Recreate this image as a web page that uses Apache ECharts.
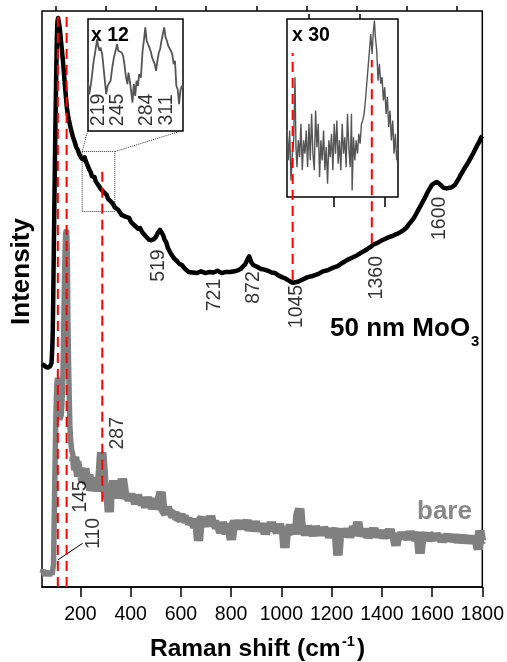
<!DOCTYPE html>
<html>
<head>
<meta charset="utf-8">
<script src="https://cdn.jsdelivr.net/npm/echarts@6/dist/echarts.min.js"></script>
<style>
html,body{margin:0;padding:0;background:#fff;}
#chart{width:507px;height:662px;}
</style>
</head>
<body>
<div id="chart"></div>
<script>
// ---------- DATA ----------
const majorTicks = [200,400,600,800,1000,1200,1400,1600,1800];
const minorTicks = [100,300,500,700,900,1100,1300,1500,1700];

// 50 nm MoO3 spectrum (black)
const moShift = [47,55,63,71,79,85,88,90,92,94,96,98,100,102,104,106,108.5,111,113,116,119,122,126,130,134,138,142,146,150,154,160,165,171,177,183,189,195,201,205,209,213,217,221,225,230,236,241,246,251,256,261,266,271,276,281,288,292,298,304,310,315,322,330,337,343,350,357,364,371,379,386,394,401,408,415,422,430,438,446,453,460,466,473,481,487,493,501,507,512,517,522,529,535,541,548,556,564,574,584,594,604,617,631,647,663,680,698,714,730,746,762,780,797,813,829,840,848,856,864,868,872,876,880,888,903,919,933,947,961,975,988,1002,1014,1026,1036,1046,1056,1066,1085,1105,1125,1145,1165,1184,1204,1224,1244,1263,1283,1302,1320,1340,1354,1368,1381,1401,1421,1440,1460,1474,1488,1498,1508,1518,1528,1537,1547,1557,1567,1575,1583,1591,1599,1608,1618,1626,1634,1640,1646,1658,1670,1678,1685,1691,1697,1705,1713,1719,1725,1735,1745,1755,1764,1772,1780,1788,1796,1800];
const moIntensity = [38.7,38.5,38.2,38.1,38.3,38.9,41.5,44.6,51,58.5,65.5,72.4,79,84.5,90,95.0,98.2,98.8,98.6,97.6,96.5,95.0,93.3,91.5,89.4,87.2,85.2,83.2,82.0,81.1,79.9,79.0,78.0,77.3,76.4,75.9,75.2,75.0,74.4,74.7,74.2,74.6,74.0,73.8,73.0,72.4,72.0,71.3,71.6,71.2,70.4,70.6,69.8,69.8,69.1,69.3,68.6,68.4,68.1,67.4,67.2,66.9,66.5,65.9,65.9,65.5,65.3,64.6,64.8,64.3,64.0,64.1,63.4,63.5,62.8,62.8,62.2,62.3,61.6,61.4,60.9,60.8,60.3,60.2,60.0,60.4,60.8,61.4,61.6,62.0,61.8,61.1,60.3,59.9,58.9,58.2,57.6,57.0,56.6,56.1,55.9,55.2,54.7,54.6,54.5,54.8,54.5,54.7,54.6,54.9,54.5,54.7,54.7,54.8,55.0,55.3,55.7,56.0,56.8,57.1,57.4,56.9,56.4,55.9,55.6,55.2,55.1,54.9,54.6,54.5,54.1,53.8,53.6,53.3,53.0,52.8,52.9,53.0,53.4,53.8,54.0,54.3,54.8,55.0,55.4,55.7,56.3,56.8,57.2,57.6,58.1,58.6,59.0,59.5,59.7,60.2,60.6,60.9,61.3,61.6,62.0,62.4,63.0,63.5,64.1,64.8,65.6,66.4,67.2,67.9,68.6,69.2,69.8,70.1,70.3,70.1,69.8,69.5,69.3,69.2,69.3,69.4,69.6,69.8,70.1,70.8,71.5,71.9,72.4,73.1,73.8,74.6,75.3,76.0,76.7,77.3,78.1,78.3];

// bare substrate spectrum (gray)
const bareShift = [47,52,57,62,67,72,77,82,87,90,93,95,98,100,102,104,106,109,111,114,118,121,124,127,130,132,134,136,138,140,142,145,147,148,150,152,154,156,158,161,165,169,173,177,181,185,189,193,197,201,205,209,213,217,221,225,229,233,236,242,248,254,260,266,272,276,280,283,285,288,290,293,296,302,308,312,315,318,322,327,333,339,345,350,355,362,367,375,381,387,394,400,406,414,420,427,434,440,447,454,460,467,473,480,487,493,500,506,513,521,527,533,540,546,552,560,568,576,584,592,600,607,612,620,628,635,645,655,664,670,676,684,692,700,710,718,726,734,742,750,758,765,772,780,790,801,808,815,824,832,840,848,856,865,872,880,888,896,904,912,920,928,936,944,952,960,968,976,984,992,1000,1008,1014,1020,1028,1036,1044,1052,1060,1066,1073,1080,1088,1096,1104,1112,1120,1128,1136,1144,1152,1160,1168,1176,1184,1192,1200,1210,1218,1225,1232,1240,1248,1256,1264,1272,1280,1288,1296,1304,1312,1320,1328,1336,1344,1352,1360,1368,1376,1384,1392,1400,1408,1416,1424,1432,1440,1448,1456,1464,1472,1480,1488,1496,1504,1512,1520,1528,1536,1544,1552,1560,1568,1576,1584,1592,1600,1608,1616,1624,1632,1640,1648,1656,1664,1672,1680,1688,1696,1704,1712,1720,1728,1736,1744,1752,1760,1768,1776,1784,1790,1796,1800];
const bareIntensity = [2.4,3.0,1.9,2.9,2.0,2.8,1.9,2.6,2.1,2.3,4.0,10,18.6,24,29.0,32.5,35.1,36.3,35.5,33.3,29.0,28.8,29.9,32.5,35.9,41,46.4,51.5,56.8,59.8,61.6,62.0,59.5,56.8,46.4,40.5,35.9,31.5,28.1,25.5,23.8,23.2,21.7,22.6,20.3,21.8,20.7,19.2,18.9,20.5,20.0,18.3,18.6,20.6,19.3,17.9,17.9,19.5,18.6,16.8,17.5,18.9,18.2,16.7,17.5,18.2,20.3,22.5,23.4,21.5,20.3,18.0,17.2,16.6,16.8,15.0,13.0,17.5,16.9,16.1,18.5,16.8,15.4,17.2,15.8,16.9,18.8,16.3,15.4,15.9,15.1,16.2,15.0,15.6,14.4,16.0,14.6,15.5,14.2,15.1,13.8,15.6,14.1,14.8,13.6,14.4,15.3,13.5,13.4,16.5,13.6,13.7,12.7,13.9,12.8,13.1,12.2,12.9,11.9,12.0,12.6,11.5,12.3,11.3,11.9,11.0,11.6,10.4,11.8,8.0,11.5,12.0,10.8,11.6,10.6,12.3,10.8,11.4,10.2,11.1,9.4,11.2,10.9,9.3,11.0,8.2,10.8,11.3,10.4,11.5,10.1,11.2,10.3,11.6,9.8,10.7,10.0,11.4,9.7,10.6,9.9,11.0,9.2,10.5,9.8,11.2,10.0,10.6,9.4,10.9,9.6,10.3,6.8,10.0,9.1,10.8,9.5,10.4,9.2,12.5,13.6,9.6,10.4,9.0,10.6,9.3,10.1,8.9,10.5,9.4,10.2,9.0,10.3,9.5,10.1,8.6,9.8,9.2,10.2,5.5,9.4,8.8,10.0,9.2,9.9,8.7,9.6,10.4,9.0,11.3,8.9,9.7,9.0,10.1,8.6,9.5,9.0,10.2,8.7,9.5,8.8,9.8,8.5,9.6,8.9,10.0,8.6,9.1,7.2,9.3,8.4,9.4,8.6,9.2,8.3,9.6,8.6,9.0,8.2,9.5,5.8,9.1,8.6,9.3,8.1,8.9,8.8,8.2,9.2,8.4,9.0,7.9,8.8,8.3,9.1,8.0,8.7,8.2,9.0,7.8,8.6,8.1,8.9,7.7,8.5,8.0,8.8,7.6,8.4,6.5,9.8,8.0,8.2];

// inset x12 (zoom of 207-337 cm-1)
const zoomAShift = [207.0,208.8,211.6,214.8,217.1,219.5,220.8,222.7,224.1,226.4,228.2,230.1,231.9,233.8,235.6,237.9,240.2,242.5,244.8,246.7,248.5,250.4,253.1,255.0,256.8,258.7,261.0,262.4,264.2,266.0,267.9,269.7,271.6,273.4,275.3,277.1,279.4,281.7,284.0,285.4,287.3,289.1,291.0,293.3,294.6,296.5,298.3,300.2,302.0,303.9,305.7,307.6,309.4,311.3,313.1,315.0,316.8,318.6,320.5,322.3,324.2,326.0,327.9,329.7,331.6,333.4,335.2,337.0];
const zoomAIntensity = [43.3,32.8,44.8,62.7,71.6,82.1,76.1,71.6,74.6,68.7,70.1,44.8,32.8,40.3,41.8,44.8,56.7,65.7,71.6,77.6,71.6,73.1,70.1,67.2,59.7,49.3,41.8,52.2,44.8,35.8,25.4,41.8,31.3,44.8,40.3,50.7,47.8,71.6,83.6,92.5,80.6,77.6,74.6,70.1,65.7,64.2,59.7,53.7,62.7,70.1,73.1,80.6,86.6,92.5,83.6,80.6,76.1,74.6,71.6,68.7,59.7,62.7,40.3,37.3,23.9,35.8,40.3,38.8];
const zoomALabels = ['219','245','284','311'];
const zoomALabelShift = [221.3,248.1,287.7,314.0];

// inset x30 (1013-1452 cm-1)
const zoomBShift = [1013.0,1018.3,1023.5,1028.8,1034.1,1039.3,1044.6,1048.5,1052.5,1057.7,1063.0,1068.3,1073.5,1078.8,1084.1,1089.3,1094.6,1099.9,1105.1,1110.4,1115.6,1120.9,1126.2,1131.4,1136.7,1142.0,1147.2,1152.5,1157.8,1163.0,1168.3,1173.6,1178.8,1184.1,1189.3,1194.6,1199.9,1205.1,1210.4,1215.7,1220.9,1226.2,1231.5,1236.7,1242.0,1247.2,1252.5,1257.8,1263.0,1268.3,1270.9,1276.2,1281.5,1286.7,1292.0,1297.3,1302.5,1307.8,1313.0,1318.3,1323.6,1328.8,1334.1,1339.4,1344.6,1349.9,1355.2,1359.1,1363.1,1368.3,1373.6,1378.8,1384.1,1389.4,1394.6,1399.9,1405.2,1410.4,1415.7,1420.9,1426.2,1431.5,1436.7,1442.0,1447.2,1452.5];
const zoomBIntensity = [38.3,20.6,37.4,9.3,24.3,31.8,67.3,28.0,16.8,31.8,22.4,41.1,15.0,31.8,24.3,37.4,16.8,41.1,20.6,46.7,24.3,15.0,48.6,28.0,41.1,11.2,31.8,20.6,37.4,15.0,28.0,7.5,31.8,22.4,35.5,15.0,41.1,24.3,43.0,18.7,31.8,15.0,41.1,24.3,33.6,16.8,46.7,28.0,16.8,46.7,3.7,33.6,20.6,31.8,24.3,35.5,29.9,41.1,43.0,46.7,54.2,63.6,72.9,82.2,91.6,80.4,93.5,99.1,89.7,82.2,65.4,74.8,63.6,67.3,54.2,61.7,46.7,56.1,39.3,48.6,31.8,43.0,24.3,35.5,20.6,28.0];
const zoomBMajorTicks = [1200,1400];
const zoomBMinorTicks = [1100,1300];

// red dashed markers
const markerShift = [110,145,287,1045,1360];
const markerFrom = [0,0,14.8,53.3,59.7];
const markerTo = [100,100,73.1,92.7,91.5];

// peak labels
const peakLabels = ['519','721','872','1045','1360','1600','287','145','110'];
const peakLabelShift = [510,733,891,1059,1378,1631,348,200,253];
const peakLabelIntensity = [55.8,50.7,52.0,48.7,53.7,64.0,26.7,15.7,9.3];

// zoom box (region 207-337) and connectors to inset
const boxShift = [207,337,337,207,207];
const boxIntensity = [75.6,75.6,65.2,65.2,75.6];
const connLeftShift = [207,228.6], connLeftIntensity = [75.6,79.2];
const connRightShift = [337,603.7], connRightIntensity = [75.6,79.2];
const leaderShift = [110,209], leaderIntensity = [4.7,7.6];

// ---------- CHART ----------
const FONT = 'Liberation Sans, Arial, sans-serif';
const zip = (a,b) => a.map((v,i)=>[v,b[i]]);
const chart = echarts.init(document.getElementById('chart'), null, {renderer:'canvas'});

const gridBorder = {show:true, borderColor:'#000', borderWidth:1.5, backgroundColor:'#fff'};
const series = [];

const barePoints = zip(bareShift, bareIntensity);
// whole spectrum, thinner stroke (sharp substrate peaks)
series.push({type:'line', xAxisIndex:0, yAxisIndex:0, data:barePoints, showSymbol:false, symbol:'none',
  lineStyle:{color:'#808080', width:5.5, join:'bevel'}, z:2});
// noisy background part drawn with a wider stroke (noise band)
series.push({type:'line', xAxisIndex:0, yAxisIndex:0, data:barePoints.filter(p=>p[0]>=172), showSymbol:false, symbol:'none',
  lineStyle:{color:'#808080', width:9.5, join:'bevel'}, z:2});

series.push({type:'line', xAxisIndex:0, yAxisIndex:0, data:zip(moShift,moIntensity), showSymbol:false, symbol:'none',
  lineStyle:{color:'#000', width:4.5, join:'round'}, z:3});

markerShift.forEach((s,i)=>{
  series.push({type:'line', xAxisIndex:0, yAxisIndex:0, data:[[s,markerFrom[i]],[s,markerTo[i]]], symbol:'none',
    lineStyle:{color:'#ff0000', width:2, type:[10,6]}, z:6, silent:true});
});

const thin = (xs, ys, type, color) => ({type:'line', xAxisIndex:0, yAxisIndex:0, data:zip(xs,ys), symbol:'none', silent:true,
  lineStyle:{color:color||'#333', width:1, type:type||'solid'}, z:4});
series.push(thin(boxShift, boxIntensity, 'dotted'));
series.push(thin(connLeftShift, connLeftIntensity, 'dotted'));
series.push(thin(connRightShift, connRightIntensity, 'dotted'));
series.push(thin(leaderShift, leaderIntensity, 'solid', '#000'));

series.push({type:'scatter', xAxisIndex:0, yAxisIndex:0, symbolSize:0, silent:true, z:7,
  data: peakLabels.map((t,i)=>({name:t, value:[peakLabelShift[i], peakLabelIntensity[i]]})),
  label:{show:true, position:'inside', rotate:90, formatter:p=>p.name, color:'#000', fontSize:19.5, fontFamily:FONT}});

// inset x12
series.push({type:'line', xAxisIndex:2, yAxisIndex:1, data:zip(zoomAShift,zoomAIntensity), symbol:'none',
  lineStyle:{color:'#555', width:1.8}, z:3});
series.push({type:'scatter', xAxisIndex:2, yAxisIndex:1, symbolSize:0, silent:true, z:7,
  data: zoomALabels.map((t,i)=>({name:t, value:[zoomALabelShift[i], 18.8]})),
  label:{show:true, position:'inside', rotate:90, formatter:p=>p.name, color:'#000', fontSize:19.5, fontFamily:FONT}});

// inset x30
series.push({type:'line', xAxisIndex:3, yAxisIndex:2, data:zip(zoomBShift,zoomBIntensity), symbol:'none',
  lineStyle:{color:'#555', width:1.4}, z:3});

const noAxis = {show:false};
const option = {
  animation:false,
  backgroundColor:'#fff',
  grid:[
    Object.assign({left:42, top:11, width:444, height:576}, gridBorder),
    Object.assign({left:88, top:19, width:95, height:112}, gridBorder),
    Object.assign({left:287, top:19, width:111, height:178}, gridBorder)
  ],
  xAxis:[
    {type:'value', gridIndex:0, min:47, max:1800,
      axisLine:{show:true, onZero:false, lineStyle:{color:'#000', width:1.5}},
      axisTick:{show:true, customValues:majorTicks, length:10, lineStyle:{color:'#000', width:1.5}},
      axisLabel:{show:true, customValues:majorTicks, formatter:v=>String(v), color:'#000', fontSize:19.5, fontFamily:FONT, margin:18},
      splitLine:{show:false}},
    {type:'value', gridIndex:0, min:47, max:1800,
      axisLine:{show:false, onZero:false},
      axisTick:{show:true, customValues:minorTicks, length:5, lineStyle:{color:'#000', width:1.5}},
      axisLabel:{show:false, customValues:minorTicks},
      splitLine:{show:false}},
    {type:'value', gridIndex:1, min:207, max:337, axisLine:noAxis, axisTick:noAxis, axisLabel:noAxis, splitLine:noAxis},
    {type:'value', gridIndex:2, min:1013, max:1452.5,
      axisLine:{show:false, onZero:false},
      axisTick:{show:true, customValues:zoomBMajorTicks, length:10, lineStyle:{color:'#000', width:1.5}},
      axisLabel:{show:false, customValues:zoomBMajorTicks}, splitLine:noAxis},
    {type:'value', gridIndex:2, min:1013, max:1452.5,
      axisLine:{show:false, onZero:false},
      axisTick:{show:true, customValues:zoomBMinorTicks, length:5, lineStyle:{color:'#000', width:1.5}},
      axisLabel:{show:false, customValues:zoomBMinorTicks}, splitLine:noAxis}
  ],
  yAxis:[
    {type:'value', gridIndex:0, min:0, max:100, show:false},
    {type:'value', gridIndex:1, min:0, max:100, show:false},
    {type:'value', gridIndex:2, min:0, max:100, show:false}
  ],
  series:series,
  graphic:[
    {type:'text', x:22, y:271.5, rotation:Math.PI/2, z:10,
      style:{text:'Intensity', fontSize:26, fontWeight:'bold', fontFamily:FONT, fill:'#000', align:'center', verticalAlign:'middle'}},
    {type:'text', x:150, y:649.7, z:10,
      style:{text:'Raman shift (cm', fontSize:24.5, fontWeight:'bold', fontFamily:FONT, fill:'#000', align:'left', verticalAlign:'middle'}},
    {type:'text', x:342, y:641.7, z:10,
      style:{text:'-1', fontSize:14.5, fontWeight:'bold', fontFamily:FONT, fill:'#000', align:'left', verticalAlign:'middle'}},
    {type:'text', x:357, y:649.7, z:10,
      style:{text:')', fontSize:24.5, fontWeight:'bold', fontFamily:FONT, fill:'#000', align:'left', verticalAlign:'middle'}},
    {type:'text', x:330, y:329, z:10,
      style:{text:'50 nm MoO', fontSize:26, fontWeight:'bold', fontFamily:FONT, fill:'#000', align:'left', verticalAlign:'middle'}},
    {type:'text', x:471, y:341.5, z:10,
      style:{text:'3', fontSize:15, fontWeight:'bold', fontFamily:FONT, fill:'#000', align:'left', verticalAlign:'middle'}},
    {type:'text', x:417, y:511.5, z:10,
      style:{text:'bare', fontSize:26, fontWeight:'bold', fontFamily:FONT, fill:'#888888', align:'left', verticalAlign:'middle'}},
    {type:'text', x:91, y:35.5, z:10,
      style:{text:'x 12', fontSize:19.5, fontWeight:'bold', fontFamily:FONT, fill:'#000', align:'left', verticalAlign:'middle'}},
    {type:'text', x:292, y:35.5, z:10,
      style:{text:'x 30', fontSize:19.5, fontWeight:'bold', fontFamily:FONT, fill:'#000', align:'left', verticalAlign:'middle'}}
  ]
};
chart.setOption(option);
</script>
</body>
</html>
